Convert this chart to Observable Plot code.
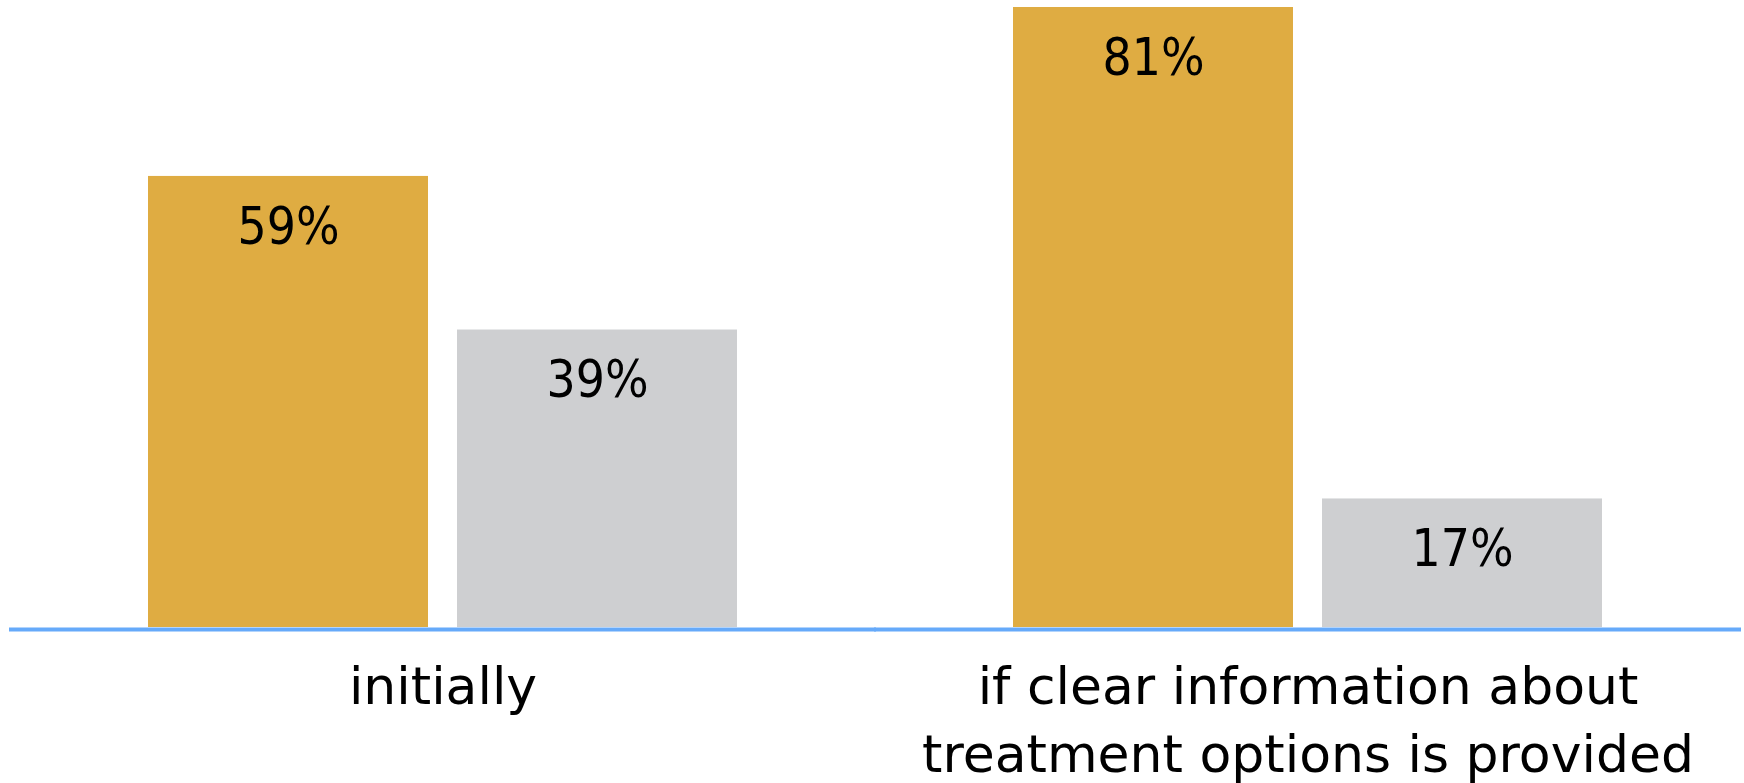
<!DOCTYPE html>
<html>
<head>
<meta charset="utf-8">
<script src="https://cdn.jsdelivr.net/npm/d3@7"></script>
<script src="https://cdn.jsdelivr.net/npm/@observablehq/plot@0.6"></script>
<style>
  html, body { margin: 0; padding: 0; background: #fff; }
  #chart svg { display: block; }
</style>
</head>
<body>
<div id="chart"></div>
<script>
const categories = ["initially", "if clear information about treatment options is provided"];
const categoryLabels = ["initially", "if clear information about\ntreatment options is provided"];
const seriesNames = ["first", "second"];
const firstValues = [59, 81];
const secondValues = [39, 17];
const seriesColors = ["#DFAC42", "#CECFD1"];

const data = [];
categories.forEach((c, i) => {
  data.push({category: c, series: seriesNames[0], value: firstValues[i]});
  data.push({category: c, series: seriesNames[1], value: secondValues[i]});
});

const chart = Plot.plot({
  width: 1744,
  height: 783,
  marginLeft: 9,
  marginRight: 4,
  marginTop: 7,
  marginBottom: 154,
  style: {fontFamily: "'DejaVu Sans', sans-serif", color: "#000", background: "#fff"},
  fx: {domain: categories, paddingInner: 0.3195, paddingOuter: 0.16, label: null},
  x: {domain: seriesNames, paddingInner: 0.0939, paddingOuter: 0, axis: null},
  y: {domain: [0, d3.max(data, d => d.value)], axis: null},
  color: {domain: seriesNames, range: seriesColors},
  marks: [
    Plot.barY(data, {fx: "category", x: "series", y: "value", fill: "series", insetBottom: 2}),
    Plot.ruleY([0], {stroke: "#66AAFA", strokeWidth: 4, insetLeft: -139, insetRight: -139}),
    Plot.text(data, {
      fx: "category", x: "series", y: "value",
      text: d => d.value + "%",
      lineAnchor: "top", dy: 31, fontSize: 51, fill: "#000",
      fontFamily: "'DejaVu Sans Condensed', 'DejaVu Sans', sans-serif"
    }),
    Plot.axisFx({
      anchor: "bottom", tickSize: 0, tickPadding: 26, fontSize: 52,
      lineHeight: 68 / 52, fill: "#000", label: null,
      tickFormat: d => categoryLabels[categories.indexOf(d)]
    })
  ]
});
document.getElementById("chart").appendChild(chart);
</script>
</body>
</html>
